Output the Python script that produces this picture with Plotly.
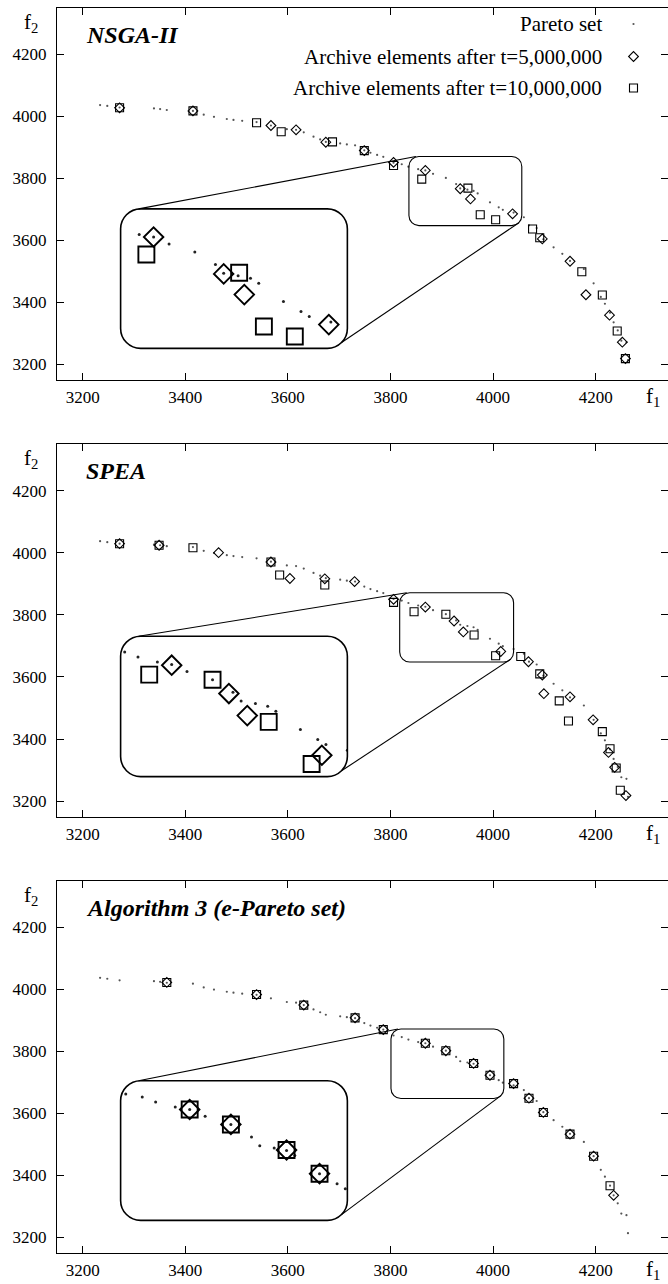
import plotly.graph_objects as go

# ---------------- data ----------------
TICKS = [3200, 3400, 3600, 3800, 4000, 4200]

PARETO_F1 = [3234, 3248, 3272, 3339, 3351, 3364, 3415, 3436, 3456, 3481, 3494, 3511,
             3539, 3567, 3598, 3616, 3631, 3650, 3663, 3674, 3702, 3715, 3731, 3749,
             3761, 3774, 3786, 3806, 3822, 3835, 3854, 3868, 3883, 3908, 3928, 3936,
             3950, 3962, 3970, 3994, 4011, 4019, 4040, 4060, 4070, 4085, 4098, 4118,
             4135, 4150, 4177, 4196, 4210, 4218, 4228, 4235, 4243, 4250, 4260, 4263]
PARETO_F2 = [4037, 4034, 4029, 4026, 4024, 4021, 4018, 4006, 3999, 3992, 3989, 3986,
             3982, 3971, 3959, 3957, 3949, 3935, 3926, 3918, 3913, 3910, 3907, 3891,
             3883, 3876, 3870, 3851, 3846, 3838, 3830, 3826, 3815, 3802, 3782, 3768,
             3764, 3760, 3752, 3723, 3707, 3699, 3690, 3675, 3649, 3640, 3604, 3578,
             3557, 3534, 3508, 3462, 3418, 3396, 3367, 3336, 3310, 3277, 3272, 3214]

# NSGA-II
NSGA_T5_F1 = [3272, 3415, 3567, 3616, 3674, 3749, 3806, 3868, 3936, 3956, 4038, 4096,
              4150, 4181, 4227, 4252, 4258]
NSGA_T5_F2 = [4028, 4018, 3971, 3957, 3917, 3890, 3852, 3826, 3767, 3734, 3686, 3605,
              3533, 3425, 3359, 3272, 3219]
NSGA_T10_F1 = [3272, 3415, 3539, 3587, 3687, 3749, 3806, 3861, 3951, 3975, 4005, 4077,
               4091, 4173, 4213, 4242, 4258]
NSGA_T10_F2 = [4028, 4018, 3980, 3951, 3918, 3890, 3842, 3798, 3769, 3683, 3667, 3637,
               3609, 3499, 3424, 3308, 3219]

# SPEA
SPEA_T5_F1 = [3272, 3349, 3465, 3567, 3604, 3672, 3730, 3806, 3868, 3924, 3942, 4015,
              4069, 4096, 4099, 4150, 4195, 4225, 4237, 4259]
SPEA_T5_F2 = [4029, 4024, 4000, 3970, 3917, 3916, 3907, 3850, 3825, 3780, 3745, 3682,
              3649, 3606, 3546, 3536, 3462, 3357, 3309, 3218]
SPEA_T10_F1 = [3272, 3349, 3415, 3567, 3584, 3672, 3806, 3846, 3908, 3963, 4005, 4054,
               4091, 4129, 4147, 4213, 4228, 4240, 4248]
SPEA_T10_F2 = [4029, 4024, 4016, 3970, 3928, 3896, 3840, 3810, 3802, 3735, 3668, 3666,
               3610, 3523, 3458, 3424, 3369, 3307, 3235]

# Algorithm 3
ALG3_T5_F1 = [3364, 3539, 3631, 3731, 3786, 3868, 3908, 3962, 3994, 4040, 4070, 4098,
              4150, 4196, 4235]
ALG3_T5_F2 = [4022, 3983, 3949, 3908, 3870, 3826, 3802, 3761, 3723, 3696, 3649, 3603,
              3533, 3462, 3336]
ALG3_T10_F1 = [3364, 3539, 3631, 3731, 3786, 3868, 3908, 3962, 3994, 4040, 4070, 4098,
               4150, 4196, 4228]
ALG3_T10_F2 = [4022, 3983, 3949, 3908, 3870, 3826, 3802, 3761, 3723, 3696, 3649, 3603,
               3533, 3462, 3367]

PANEL_TITLES = ["NSGA-II", "SPEA", "Algorithm 3 (e-Pareto set)"]
LEGEND_LABELS = ["Pareto set", "Archive elements after t=5,000,000",
                 "Archive elements after t=10,000,000"]

# magnified regions (data units) and where their enlarged copies sit (data units)
ZOOM_F1 = [[3836, 4056], [3818, 4040], [3801, 4021]]
ZOOM_F2 = [[3648, 3871], [3648, 3871], [3648, 3872]]
INSET_F1 = [[3274, 3716], [3274, 3716], [3274, 3716]]
INSET_F2 = [[3252, 3702], [3279, 3731], [3255, 3705]]

SETS = [
    (NSGA_T5_F1, NSGA_T5_F2, NSGA_T10_F1, NSGA_T10_F2),
    (SPEA_T5_F1, SPEA_T5_F2, SPEA_T10_F1, SPEA_T10_F2),
    (ALG3_T5_F1, ALG3_T5_F2, ALG3_T10_F1, ALG3_T10_F2),
]

# ---------------- layout constants ----------------
W, H = 668, 1284
ML, MR, MT, MB = 57, 0, 8, 31
F1_RANGE = [3150, 4341]
F2_RANGE = [3150, 4350]
PANEL_PX = [(8, 380), (444, 816.7), (880.7, 1253)]
FONT = "Liberation Serif"
PW = W - ML - MR
PH = H - MT - MB
PX_X = PW / (F1_RANGE[1] - F1_RANGE[0])
PX_Y = 372.0 / (F2_RANGE[1] - F2_RANGE[0])


def px2paper(xp, yp):
    return (xp - ML) / PW, (H - MB - yp) / PH


def ydom(k):
    top, bot = PANEL_PX[k]
    return [(H - MB - bot) / PH, (H - MB - top) / PH]


def axname(n):
    return ("x" if n == 1 else f"x{n}"), ("y" if n == 1 else f"y{n}")


def rrect(x0, x1, y0, y1, rx, ry):
    c = 1 - 0.5523
    return (f"M{x0+rx},{y1} L{x1-rx},{y1} C{x1-rx*c},{y1} {x1},{y1-ry*c} {x1},{y1-ry} "
            f"L{x1},{y0+ry} C{x1},{y0+ry*c} {x1-rx*c},{y0} {x1-rx},{y0} "
            f"L{x0+rx},{y0} C{x0+rx*c},{y0} {x0},{y0+ry*c} {x0},{y0+ry} "
            f"L{x0},{y1-ry} C{x0},{y1-ry*c} {x0+rx*c},{y1} {x0+rx},{y1} Z")


fig = go.Figure()
layout = dict(width=W, height=H, margin=dict(l=ML, r=MR, t=MT, b=MB),
              paper_bgcolor="white", plot_bgcolor="rgba(0,0,0,0)", showlegend=False,
              font=dict(family=FONT, color="black"))
shapes, annotations = [], []

tickfont = dict(family=FONT, size=17, color="black")
for k in range(3):
    mx, my = axname(k + 1)
    ix, iy = axname(k + 4)
    dom = ydom(k)
    layout["xaxis" if k == 0 else f"xaxis{k+1}"] = dict(
        range=F1_RANGE, domain=[0, 1], anchor=my, tickvals=TICKS, ticks="inside",
        ticklen=7, tickwidth=1, tickcolor="black", showline=True, linecolor="black",
        linewidth=1, mirror="ticks", showgrid=False, zeroline=False, tickfont=tickfont,
        ticklabelstandoff=2)
    layout["yaxis" if k == 0 else f"yaxis{k+1}"] = dict(
        range=F2_RANGE, domain=dom, anchor=mx, tickvals=TICKS, ticks="inside",
        ticklen=7, tickwidth=1, tickcolor="black", showline=True, linecolor="black",
        linewidth=1, mirror="ticks", showgrid=False, zeroline=False, tickfont=tickfont,
        ticklabelstandoff=6)

    def fx(v):
        return (v - F1_RANGE[0]) / (F1_RANGE[1] - F1_RANGE[0])

    def fy(v):
        return dom[0] + (v - F2_RANGE[0]) / (F2_RANGE[1] - F2_RANGE[0]) * (dom[1] - dom[0])

    layout[f"xaxis{k+4}"] = dict(range=ZOOM_F1[k], domain=[fx(INSET_F1[k][0]), fx(INSET_F1[k][1])],
                                 anchor=iy, visible=False)
    layout[f"yaxis{k+4}"] = dict(range=ZOOM_F2[k], domain=[fy(INSET_F2[k][0]), fy(INSET_F2[k][1])],
                                 anchor=ix, visible=False)

    t5x, t5y, t10x, t10y = SETS[k]
    for (ax, ay, big) in [(mx, my, False), (ix, iy, True)]:
        fig.add_trace(go.Scatter(x=PARETO_F1, y=PARETO_F2, mode="markers", xaxis=ax, yaxis=ay,
                                 marker=dict(size=3.0 if big else 2.2,
                                             color="#222222" if big else "#555555",
                                             line=dict(width=0)), hoverinfo="skip"))
        fig.add_trace(go.Scatter(x=t5x, y=t5y, mode="markers", xaxis=ax, yaxis=ay,
                                 marker=dict(symbol="diamond-open", size=15 if big else 7.5,
                                             color="black",
                                             line=dict(width=1.9 if big else 1.1, color="black"))))
        fig.add_trace(go.Scatter(x=t10x, y=t10y, mode="markers", xaxis=ax, yaxis=ay,
                                 marker=dict(symbol="square-open", size=16 if big else 8,
                                             color="black",
                                             line=dict(width=1.9 if big else 1.1, color="black"))))

    # rounded rectangles and connecting lines (main axis data units)
    rxs, rys = 10 / PX_X, 10 / PX_Y
    rxl, ryl = 20 / PX_X, 20 / PX_Y
    sx0, sx1 = ZOOM_F1[k]
    sy0, sy1 = ZOOM_F2[k]
    lx0, lx1 = INSET_F1[k]
    ly0, ly1 = INSET_F2[k]
    shapes.append(dict(type="path", xref=mx, yref=my, path=rrect(sx0, sx1, sy0, sy1, rxs, rys),
                       line=dict(color="black", width=1.1)))
    shapes.append(dict(type="path", xref=mx, yref=my, path=rrect(lx0, lx1, ly0, ly1, rxl, ryl),
                       line=dict(color="black", width=1.6)))
    shapes.append(dict(type="line", xref=mx, yref=my, x0=lx0 + 0.9 * rxl, y0=ly1,
                       x1=sx0 + 0.7 * rxs, y1=sy1, line=dict(color="black", width=1.1)))
    shapes.append(dict(type="line", xref=mx, yref=my, x0=lx1 - 0.29 * rxl, y0=ly0 + 0.29 * ryl,
                       x1=sx1 - 0.29 * rxs, y1=sy0 + 0.29 * rys, line=dict(color="black", width=1.1)))

    # texts
    top, bot = PANEL_PX[k]
    px, py = px2paper(84, top + 27)
    annotations.append(dict(text=f"<b><i>{PANEL_TITLES[k]}</i></b>", xref="paper", yref="paper",
                            x=px, y=py, xanchor="left", yanchor="middle", showarrow=False,
                            font=dict(family=FONT, size=24, color="black")))
    px, py = px2paper(31, top + 15)
    annotations.append(dict(text="f<sub>2</sub>", xref="paper", yref="paper", x=px, y=py,
                            xanchor="center", yanchor="middle", showarrow=False,
                            font=dict(family=FONT, size=21, color="black")))
    px, py = px2paper(653, bot + 17)
    annotations.append(dict(text="f<sub>1</sub>", xref="paper", yref="paper", x=px, y=py,
                            xanchor="center", yanchor="middle", showarrow=False,
                            font=dict(family=FONT, size=21, color="black")))

# legend (panel 1), drawn in a pixel-unit overlay axis
layout["xaxis7"] = dict(range=[ML, W - MR], domain=[0, 1], anchor="y7", visible=False)
layout["yaxis7"] = dict(range=[PANEL_PX[0][1], PANEL_PX[0][0]], domain=ydom(0), anchor="x7", visible=False)
LEG_ROWS = [24, 56.5, 88]
LEG_KEY_X = 633.5
LEG_TEXT_X = 604
fig.add_trace(go.Scatter(x=[LEG_KEY_X], y=[LEG_ROWS[0]], mode="markers", xaxis="x7", yaxis="y7",
                         marker=dict(size=2.2, color="#555555", line=dict(width=0))))
fig.add_trace(go.Scatter(x=[LEG_KEY_X], y=[LEG_ROWS[1]], mode="markers", xaxis="x7", yaxis="y7",
                         marker=dict(symbol="diamond-open", size=7.5, color="black",
                                     line=dict(width=1.1, color="black"))))
fig.add_trace(go.Scatter(x=[LEG_KEY_X], y=[LEG_ROWS[2]], mode="markers", xaxis="x7", yaxis="y7",
                         marker=dict(symbol="square-open", size=8, color="black",
                                     line=dict(width=1.1, color="black"))))
for lab, ry in zip(LEGEND_LABELS, LEG_ROWS):
    annotations.append(dict(text=lab, xref="x7", yref="y7", x=LEG_TEXT_X, y=ry,
                            xanchor="right", yanchor="middle", showarrow=False,
                            font=dict(family=FONT, size=21, color="black")))

layout["shapes"] = shapes
layout["annotations"] = annotations
fig.update_layout(**layout)
fig.write_html("out.html", config={"displayModeBar": False},
               post_script="document.body.style.margin='0';document.body.style.overflow='hidden';")
